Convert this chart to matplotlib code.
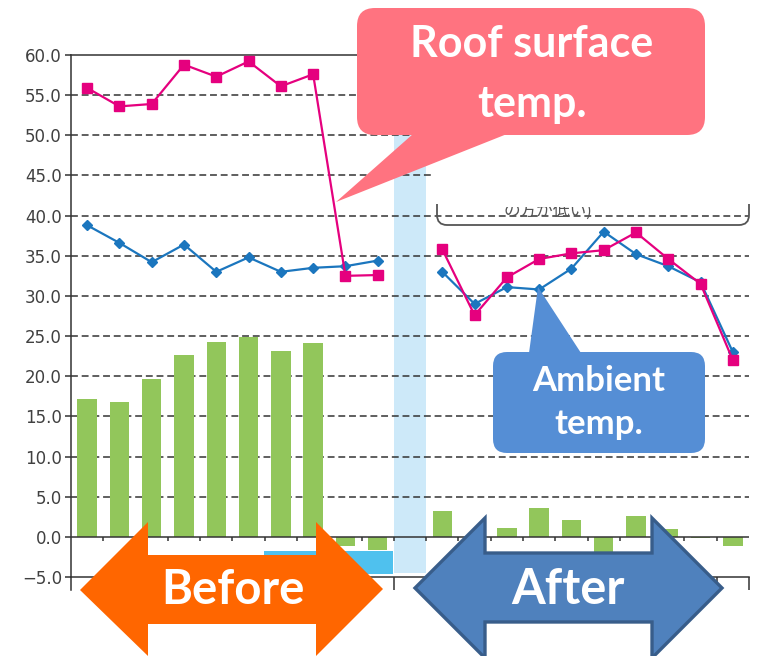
import numpy as np
import matplotlib
matplotlib.use('Agg')
import matplotlib.pyplot as plt
from matplotlib.patches import Polygon, FancyBboxPatch, Rectangle, PathPatch
from matplotlib.path import Path

# values (deg C)
roof_before = [55.9, 53.6, 53.9, 58.8, 57.3, 59.2, 56.1, 57.6, 32.5, 32.6]
roof_after = [35.8, 27.6, 32.3, 34.6, 35.3, 35.7, 37.9, 34.6, 31.5, 22.0]
amb_before = [38.8, 36.6, 34.2, 36.4, 33.0, 34.8, 33.0, 33.5, 33.7, 34.4]
amb_after = [33.0, 29.0, 31.1, 30.8, 33.4, 38.0, 35.2, 33.7, 31.7, 23.0]
diff_before = [17.2, 16.8, 19.6, 22.7, 24.3, 24.9, 23.1, 24.1, -1.1, -1.7]
diff_after = [3.2, -1.4, 1.1, 3.6, 2.1, -2.0, 2.6, 1.0, -0.2, -1.1]
yticks = [-5.0, 0.0, 5.0, 10.0, 15.0, 20.0, 25.0, 30.0, 35.0, 40.0, 45.0, 50.0, 55.0, 60.0]

W, H = 757, 656
PINK = '#E5007E'
BLUE = '#1B76BE'
GREEN = '#92C65B'
GRID = '#333333'

gap = [np.nan]
roof = np.array(roof_before + gap + roof_after)
amb = np.array(amb_before + gap + amb_after)
diff = np.array(diff_before + gap + diff_after)
x = np.arange(len(roof))
gap_idx = len(roof_before)

fig = plt.figure(figsize=(W / 100, H / 100), dpi=100)
ax = fig.add_axes([71 / W, 1 - 577 / H, 678 / W, 522 / H])
ax.set_xlim(-0.5, len(x) - 0.5)
ax.set_ylim(-5, 60)

# construction period band
ax.axvspan(gap_idx - 0.5, gap_idx + 0.5, ymin=0.007, ymax=1, color='#CDE9F9', lw=0, zorder=0)

for v in yticks[2:-1]:
    ax.axhline(v, color=GRID, lw=1.1, ls=(0, (4.5, 2.5)), zorder=1)
ax.axhline(0, color=GRID, lw=1.1, zorder=3)
bounds = np.arange(len(x) + 1) - 0.5
ax.vlines(bounds[1:-1], -0.55, 0, color=GRID, lw=1.1, zorder=3)

ax.bar(x, diff, width=0.6, color=GREEN, zorder=2)
ax.plot(x, amb, color=BLUE, lw=1.6, marker='D', ms=5, zorder=4)
ax.plot(x, roof, color=PINK, lw=1.6, marker='s', ms=6.5, zorder=5)

ax.set_yticks(yticks)
ax.set_yticklabels([('%.1f' % v).replace('-', '\u2212') for v in yticks])
ax.set_xticks(bounds[1:], minor=False)
ax.set_xticklabels([])
ax.tick_params(axis='y', direction='out', length=4.5, width=1.1, color=GRID,
               labelsize=12, labelcolor='#404040', pad=2)
ax.tick_params(axis='x', direction='out', length=9, width=1.1, color=GRID)
for s in ['left', 'bottom', 'top']:
    ax.spines[s].set_color(GRID)
    ax.spines[s].set_linewidth(1.1)
ax.spines['right'].set_visible(False)
ax.plot([0, 0], [-0.024, 0], transform=ax.transAxes, color=GRID, lw=1.1, clip_on=False)

# overlay in pixel coordinates for callouts and arrows
ov = fig.add_axes([0, 0, 1, 1], zorder=10)
ov.set_xlim(0, W)
ov.set_ylim(H, 0)
ov.axis('off')
ov.patch.set_alpha(0)

ov.add_patch(Rectangle((264, 551), 129, 23, color='#4FC1EE', lw=0, zorder=1))

# remains of an older note box, top half cut away
ov.text(548, 216, 'の方が低い)', ha='center', va='baseline', fontsize=12, color='#555555',
        family=['Noto Sans CJK JP', 'DejaVu Sans'], zorder=2)
ov.add_patch(Rectangle((433, 0), 320, 207, color='white', lw=0, zorder=3))
verts = [(437, 204), (437, 215), (437, 225), (447, 225), (739, 225), (749, 225), (749, 215), (749, 204)]
codes = [Path.MOVETO, Path.LINETO, Path.CURVE3, Path.CURVE3, Path.LINETO, Path.CURVE3, Path.CURVE3, Path.LINETO]
ov.add_patch(PathPatch(Path(verts, codes), fill=False, ec='#555555', lw=1.3, zorder=3))

# roof surface callout
RC = '#FF7380'
ov.add_patch(FancyBboxPatch((357, 8), 348, 127, boxstyle='round,pad=0,rounding_size=18', fc=RC, ec='none', zorder=5))
ov.add_patch(Polygon([(413, 134), (507, 134), (336, 202)], closed=True, fc=RC, ec='none', zorder=5))
tf = ['Lato', 'DejaVu Sans']
ov.text(532, 44, 'Roof surface', ha='center', va='center', color='white', fontsize=31, weight='bold', family=tf, zorder=6)
ov.text(532, 104, 'temp.', ha='center', va='center', color='white', fontsize=31, weight='bold', family=tf, zorder=6)

# ambient callout
AC = '#558ED5'
ov.add_patch(FancyBboxPatch((493, 352), 212, 101, boxstyle='round,pad=0,rounding_size=14', fc=AC, ec='none', zorder=5))
ov.add_patch(Polygon([(529, 353), (581, 353), (538, 287)], closed=True, fc=AC, ec='none', zorder=5))
ov.text(599, 381, 'Ambient', ha='center', va='center', color='white', fontsize=25, weight='bold', family=tf, zorder=6)
ov.text(599, 424, 'temp.', ha='center', va='center', color='white', fontsize=25, weight='bold', family=tf, zorder=6)

# before / after arrows
before_pts = [(80, 590), (148, 522), (148, 555), (316, 555), (316, 522), (383, 589),
              (316, 656), (316, 624), (148, 624), (148, 656)]
ov.add_patch(Polygon(before_pts, closed=True, fc='#FF6600', ec='none', zorder=5))
ov.text(233, 590, 'Before', ha='center', va='center', color='white', fontsize=34, weight='bold', family=tf, zorder=6)

after_pts = [(415, 588), (485, 518), (485, 553), (652, 553), (652, 518), (722, 588),
             (652, 658), (652, 622), (485, 622), (485, 658)]
ov.add_patch(Polygon(after_pts, closed=True, fc='#4F81BD', ec='#385D8A', lw=2.4, joinstyle='miter', zorder=5))
ov.text(568, 590, 'After', ha='center', va='center', color='white', fontsize=35, weight='bold', family=tf, zorder=6)

fig.savefig('out.png', dpi=100, facecolor='white')
